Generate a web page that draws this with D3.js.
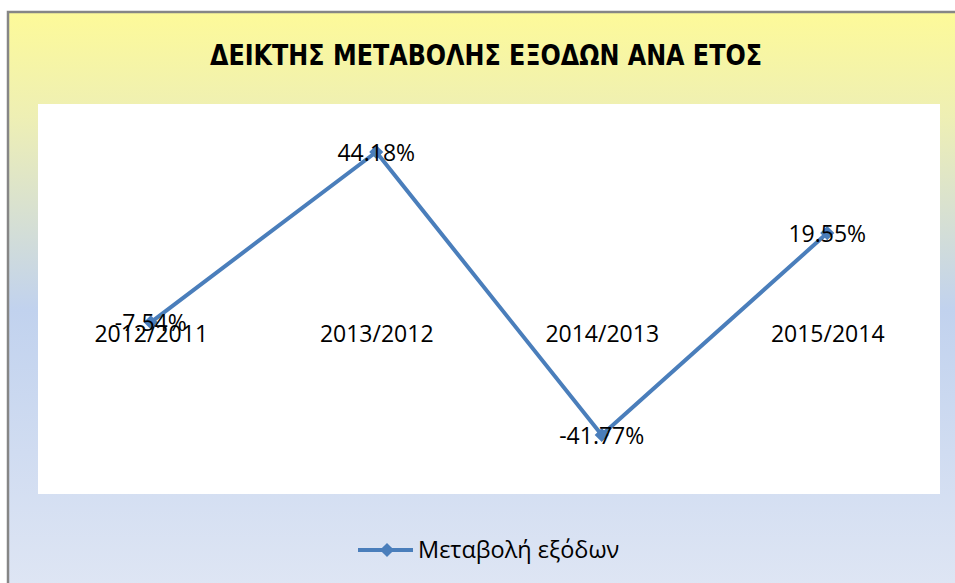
<!DOCTYPE html>
<html>
<head>
<meta charset="utf-8">
<script src="https://cdn.jsdelivr.net/npm/d3@7"></script>
<style>
  body { margin: 0; background: #fff; }
  svg { display: block; }
</style>
</head>
<body>
<svg id="chart" width="955" height="583"></svg>
<script>
// chart data
const categories = ["2012/2011", "2013/2012", "2014/2013", "2015/2014"];
const values = [-7.54, 44.18, -41.77, 19.55];
const seriesName = "Μεταβολή εξόδων";
const title = "ΔΕΙΚΤΗΣ ΜΕΤΑΒΟΛΗΣ ΕΞΟΔΩΝ ΑΝΑ ΕΤΟΣ";

const width = 955, height = 583;
const svg = d3.select("#chart");

// background gradient of the chart area
const defs = svg.append("defs");
const grad = defs.append("linearGradient")
    .attr("id", "bg").attr("x1", 0).attr("y1", 0).attr("x2", 0).attr("y2", 1);
grad.append("stop").attr("offset", "0%").attr("stop-color", "#fdfa99");
grad.append("stop").attr("offset", "18%").attr("stop-color", "#eeefb4");
grad.append("stop").attr("offset", "51%").attr("stop-color", "#c1d2ee");
grad.append("stop").attr("offset", "100%").attr("stop-color", "#dfe6f4");

svg.append("rect")
    .attr("x", 8).attr("y", 12)
    .attr("width", width + 10).attr("height", height)
    .attr("fill", "url(#bg)")
    .attr("stroke", "#868686").attr("stroke-width", 2.5);

svg.append("text")
    .attr("x", 210).attr("y", 65)
    .attr("textLength", 552)
    .attr("lengthAdjust", "spacingAndGlyphs")
    .attr("font-family", "'DejaVu Sans Condensed', 'DejaVu Sans', sans-serif")
    .attr("font-weight", "bold")
    .attr("font-size", 29)
    .attr("fill", "#000")
    .text(title);

// plot area
const plot = { left: 38, top: 104, right: 940, bottom: 494 };
svg.append("rect")
    .attr("x", plot.left).attr("y", plot.top)
    .attr("width", plot.right - plot.left).attr("height", plot.bottom - plot.top)
    .attr("fill", "#fff");

const x = d3.scalePoint()
    .domain(categories)
    .range([plot.left, plot.right])
    .padding(0.5);

const y = d3.scaleLinear()
    .domain([-41.77, 44.18])
    .range([435, 152]);

const font = "'Open Sans', 'Liberation Sans', sans-serif";

// category labels sit under the (hidden) zero line
const xAxis = svg.append("g")
    .attr("transform", `translate(0,${y(0)})`)
    .call(d3.axisBottom(x).tickSize(0).tickPadding(28));
xAxis.select(".domain").remove();
xAxis.selectAll("text")
    .attr("font-family", font)
    .attr("font-size", 23)
    .attr("fill", "#000");

const pts = categories.map((c, i) => ({ c, v: values[i] }));

const line = d3.line().x(d => x(d.c)).y(d => y(d.v));
svg.append("path")
    .datum(pts)
    .attr("d", line)
    .attr("fill", "none")
    .attr("stroke", "#4a7ebb")
    .attr("stroke-width", 4)
    .attr("stroke-linejoin", "round");

const diamond = d3.symbol().type(d3.symbolSquare).size(100);
svg.selectAll(".marker")
    .data(pts)
    .join("path")
    .attr("class", "marker")
    .attr("d", diamond)
    .attr("transform", d => `translate(${x(d.c)},${y(d.v)}) rotate(45)`)
    .attr("fill", "#4a7ebb");

svg.selectAll(".lbl")
    .data(pts)
    .join("text")
    .attr("class", "lbl")
    .attr("x", d => x(d.c))
    .attr("y", d => y(d.v) + 9)
    .attr("text-anchor", "middle")
    .attr("font-family", font)
    .attr("font-size", 23)
    .attr("fill", "#000")
    .text(d => d.v.toFixed(2) + "%");

// legend
const lg = svg.append("g").attr("transform", "translate(358,550)");
lg.append("line")
    .attr("x1", 0).attr("x2", 55)
    .attr("stroke", "#4a7ebb").attr("stroke-width", 4);
lg.append("path")
    .attr("d", diamond)
    .attr("transform", "translate(29,0) rotate(45)")
    .attr("fill", "#4a7ebb");
lg.append("text")
    .attr("x", 60).attr("y", 8)
    .attr("font-family", font)
    .attr("font-size", 23.5)
    .attr("fill", "#000")
    .text(seriesName);
</script>
</body>
</html>
